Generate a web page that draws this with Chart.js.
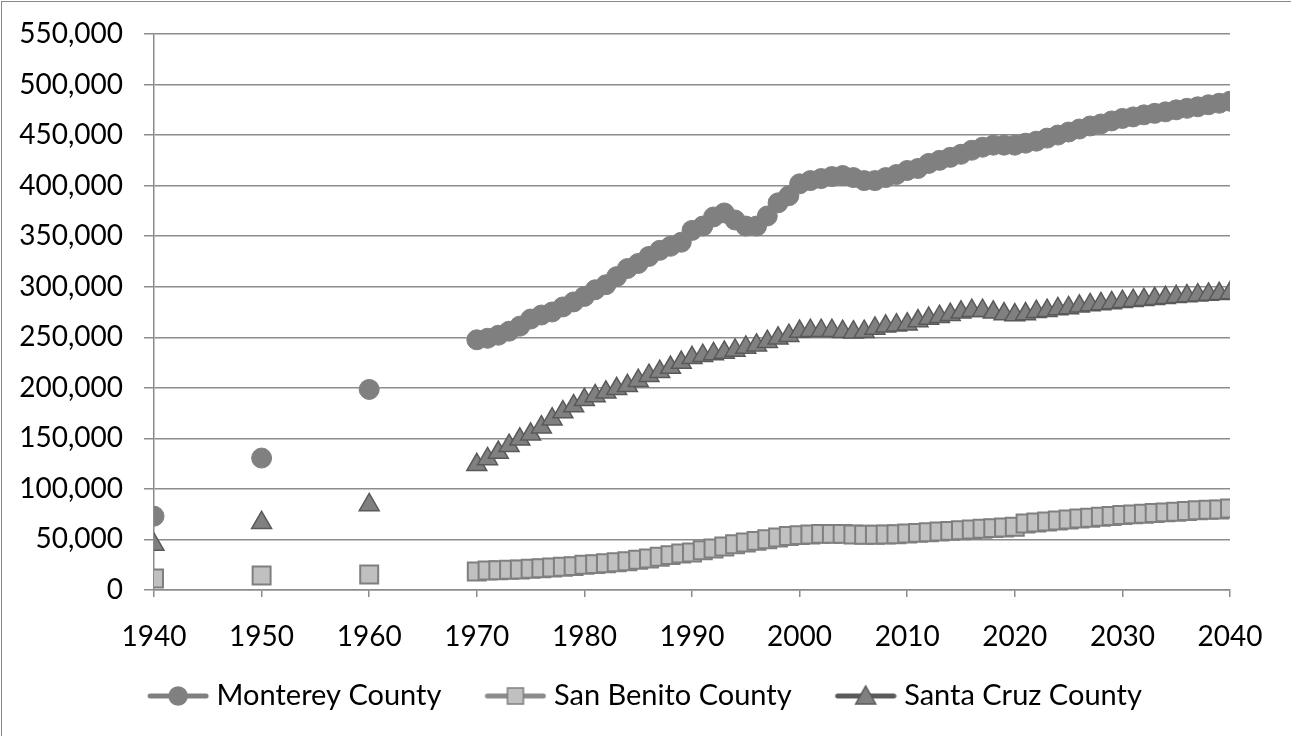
<!DOCTYPE html>
<html>
<head>
<meta charset="utf-8">
<script src="https://cdn.jsdelivr.net/npm/chart.js@4.4.1/dist/chart.umd.min.js"></script>
<style>
  html, body { margin: 0; padding: 0; overflow: hidden; background: #fff; }
  .frame { position: absolute; left: 1px; top: 1px; width: 1400px; height: 900px; border: 1px solid #8a8a8a; }
  .chart-box { position: absolute; left: 0; top: 0; width: 1291px; height: 736px; }
</style>
</head>
<body>
<div class="frame"></div>
<div class="chart-box"><canvas id="chart" width="1291" height="736"></canvas></div>
<script>
// census years, then yearly estimates / projections
const years = [
  1940, 1950, 1960,
  1970, 1971, 1972, 1973, 1974, 1975, 1976, 1977, 1978, 1979,
  1980, 1981, 1982, 1983, 1984, 1985, 1986, 1987, 1988, 1989,
  1990, 1991, 1992, 1993, 1994, 1995, 1996, 1997, 1998, 1999,
  2000, 2001, 2002, 2003, 2004, 2005, 2006, 2007, 2008, 2009,
  2010, 2011, 2012, 2013, 2014, 2015, 2016, 2017, 2018, 2019,
  2020, 2021, 2022, 2023, 2024, 2025, 2026, 2027, 2028, 2029,
  2030, 2031, 2032, 2033, 2034, 2035, 2036, 2037, 2038, 2039,
  2040
];

const monterey = [
  73000, 130500, 198400,
  247500, 249000, 252000, 256000, 261000, 268000, 272000, 275000, 280000, 285000,
  290400, 297000, 302000, 310000, 318000, 323000, 330000, 336000, 340000, 344000,
  355700, 360000, 369000, 373000, 366000, 360000, 360000, 370000, 383000, 390000,
  401800, 405000, 407000, 409000, 410000, 408000, 405000, 405000, 408000, 411000,
  415000, 417000, 422000, 425000, 428000, 431000, 435000, 438000, 440000, 440000,
  440000, 442000, 444000, 447000, 450000, 453000, 456000, 459000, 461000, 464000,
  466500, 468000, 470000, 471500, 473000, 475000, 476500, 478000, 480000, 481500,
  483500
];

const sanBenito = [
  11400, 14400, 15400,
  18200, 19300, 19600, 20000, 20300, 21000, 21600, 22300, 22900, 23600,
  25000, 25600, 26500, 27500, 28500, 30000, 31200, 32900, 34500, 36100,
  37000, 39400, 41000, 43000, 45300, 47000, 48600, 50300, 51900, 53500,
  54300, 55000, 55500, 55500, 55500, 55000, 54600, 54600, 54900, 55200,
  55900, 56500, 57200, 57900, 58500, 59200, 59900, 60500, 61200, 61800,
  62500, 65800, 66800, 67800, 68800, 69800, 70800, 71500, 72500, 73100,
  74100, 74800, 75500, 76100, 76800, 77400, 78100, 78800, 79400, 79700,
  80600
];

const santaCruz = [
  45000, 66500, 84200,
  123800, 129600, 136000, 142700, 149000, 154000, 161000, 169000, 176000, 182000,
  188100, 192000, 195500, 199000, 202000, 207000, 212000, 216000, 220000, 225000,
  229700, 231800, 233500, 235000, 237000, 240000, 242000, 245600, 249000, 251600,
  255600, 256500, 256500, 256500, 255500, 255000, 255500, 258800, 260800, 262000,
  263000, 266000, 268500, 270400, 272400, 274700, 276300, 276300, 274700, 273000,
  272000, 273000, 275300, 276300, 278000, 279000, 280600, 282000, 283000, 284000,
  285200, 286200, 287200, 288000, 289000, 290000, 290800, 291600, 292400, 293000,
  293800
];

const seriesNames = ["Monterey County", "San Benito County", "Santa Cruz County"];

const toPoints = (vals) => years.map((yr, i) => ({ x: yr, y: vals[i] }));

// no line across the gaps between census years
const gapSegment = {
  borderColor: (ctx) =>
    ctx.p1.parsed.x - ctx.p0.parsed.x > 1 ? "rgba(0,0,0,0)" : undefined,
};

// legend swatch: blank gap on the left, then a thick line with the marker
const swatchBox = 98; // legend pointStyleWidth
const legendIcon = (kind, lineColor, fill, stroke) => {
  const c = document.createElement("canvas");
  c.width = swatchBox + 14;
  c.height = 26;
  const g = c.getContext("2d");
  const end = c.width - 3;
  const start = end - 56;
  const mid = (start + end) / 2;
  g.strokeStyle = lineColor;
  g.lineWidth = 5;
  g.lineCap = "round";
  g.beginPath();
  g.moveTo(start, 13);
  g.lineTo(end, 13);
  g.stroke();
  g.fillStyle = fill;
  g.strokeStyle = stroke;
  g.lineWidth = 1.5;
  g.beginPath();
  if (kind === "circle") {
    g.arc(mid, 13, 9, 0, Math.PI * 2);
  } else if (kind === "rect") {
    g.rect(mid - 8, 5, 16, 16);
  } else {
    g.moveTo(mid, 3);
    g.lineTo(mid + 10, 21);
    g.lineTo(mid - 10, 21);
    g.closePath();
  }
  g.fill();
  g.stroke();
  return c;
};

const icons = [
  legendIcon("circle", "#808080", "#808080", "#808080"),
  legendIcon("rect", "#8c8c8c", "#c0c0c0", "#7f7f7f"),
  legendIcon("triangle", "#5a5a5a", "#808080", "#595959"),
];

const gridGray = "#8c8c8c";
const fontFamily = "Lato, 'Open Sans', sans-serif";

new Chart(document.getElementById("chart"), {
  type: "line",
  data: {
    datasets: [
      {
        label: seriesNames[0],
        data: toPoints(monterey),
        borderColor: "#808080",
        borderWidth: 3,
        pointStyle: "circle",
        pointRadius: 10,
        pointBackgroundColor: "#808080",
        pointBorderColor: "#808080",
        pointBorderWidth: 1,
        segment: gapSegment,
      },
      {
        label: seriesNames[1],
        data: toPoints(sanBenito),
        borderColor: "#8c8c8c",
        borderWidth: 3,
        pointStyle: "rect",
        pointRadius: 12.7,
        pointBackgroundColor: "#c0c0c0",
        pointBorderColor: "#7f7f7f",
        pointBorderWidth: 2,
        segment: gapSegment,
      },
      {
        label: seriesNames[2],
        data: toPoints(santaCruz),
        borderColor: "#5a5a5a",
        borderWidth: 3,
        pointStyle: "triangle",
        pointRadius: 11.5,
        pointBackgroundColor: "#808080",
        pointBorderColor: "#595959",
        pointBorderWidth: 1.5,
        segment: gapSegment,
      },
    ],
  },
  options: {
    responsive: false,
    animation: false,
    layout: { padding: { left: 16, right: 61, top: 34, bottom: 15.5 } },
    scales: {
      x: {
        type: "linear",
        min: 1940,
        max: 2040,
        afterFit: (scale) => { scale.height = 91.5; },
        ticks: {
          stepSize: 10,
          padding: 26,
          color: "#000",
          font: { family: fontFamily, size: 28, lineHeight: 1 },
          callback: (v) => String(v),
          maxRotation: 0,
        },
        grid: {
          drawOnChartArea: false,
          drawTicks: true,
          tickLength: 7,
          color: gridGray,
          lineWidth: 1.5,
        },
        border: { display: true, color: gridGray, width: 1.5 },
      },
      y: {
        min: 0,
        max: 550000,
        afterFit: (scale) => { scale.width = 138; },
        ticks: {
          stepSize: 50000,
          padding: 21,
          color: "#000",
          font: { family: fontFamily, size: 28, lineHeight: 0.9 },
          callback: (v) => v.toLocaleString("en-US"),
        },
        grid: {
          color: gridGray,
          lineWidth: 1.5,
          drawTicks: true,
          tickLength: 10,
        },
        border: { display: true, color: gridGray, width: 1.5 },
      },
    },
    plugins: {
      tooltip: { enabled: false },
      legend: {
        position: "bottom",
        labels: {
          usePointStyle: true,
          pointStyleWidth: swatchBox,
          padding: 0,
          color: "#000",
          font: { family: fontFamily, size: 29 },
          generateLabels: (chart) =>
            chart.data.datasets.map((ds, i) => ({
              text: ds.label,
              pointStyle: icons[i],
              datasetIndex: i,
              hidden: false,
              fontColor: "#000",
              lineWidth: 0,
              strokeStyle: "rgba(0,0,0,0)",
              fillStyle: "rgba(0,0,0,0)",
            })),
        },
      },
    },
  },
});
</script>
</body>
</html>
